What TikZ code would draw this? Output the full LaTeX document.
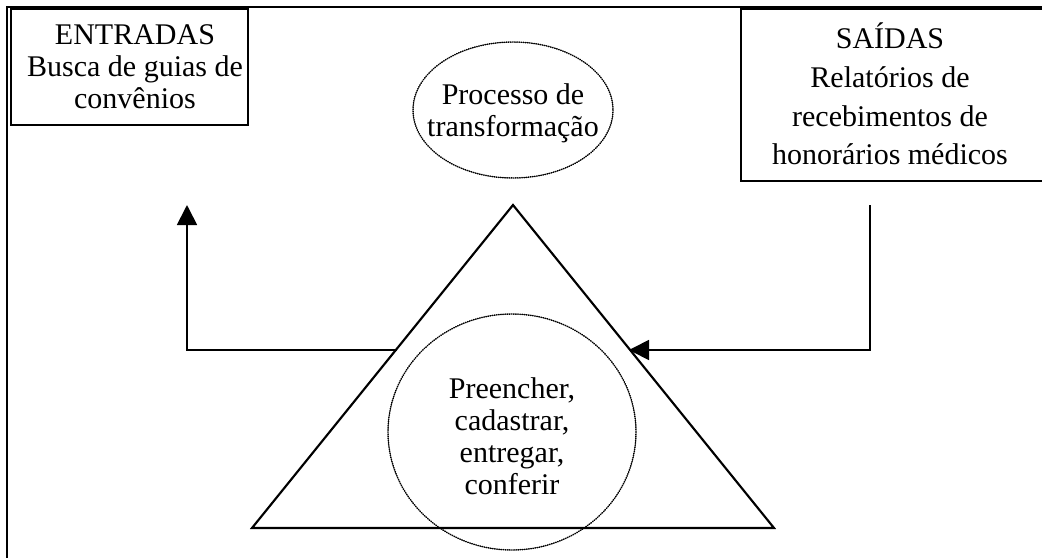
\documentclass[tikz,border=0pt]{standalone}
\usepackage{fontspec}
\setmainfont{Liberation Serif}
\usetikzlibrary{arrows.meta}
\begin{document}
\begin{tikzpicture}[x=0.75pt,y=-0.75pt,
  frameline/.style={line width=1.6pt},
  boxline/.style={line width=1.4pt},
  conn/.style={line width=1.3pt},
  dotline/.style={line width=1.1pt, dash pattern=on 0.5pt off 1.1pt, line cap=round},
  txt/.style={align=center, font=\fontsize{22.5}{24}\selectfont, inner sep=0pt},
  txtb/.style={align=center, font=\fontsize{22.5}{29}\selectfont, inner sep=0pt},
  tip/.style={-{Triangle[length=15pt,width=15pt]}}]
\useasboundingbox (0,0) rectangle (1042,557);
% outer frame (top and left edges visible)
\coordinate (fTL) at (7,7);
\coordinate (fTR) at (1045,7);
\coordinate (fBL) at (7,560);
\draw[frameline] (fTR) -- (fTL) -- (fBL);
% boxes
\node[boxline, draw, minimum width=237*0.75pt, minimum height=116*0.75pt, anchor=north west] (inbox) at (10,8) {};
\node[txt] (intxt) at (135,67) {ENTRADAS\\Busca de guias de\\convênios};
\node[boxline, draw, minimum width=310*0.75pt, minimum height=172*0.75pt, anchor=north west] (outbox) at (740,8) {};
\node[txtb] (outtxt) at (890,94) {SAÍDAS\\Relatórios de\\recebimentos de\\honorários médicos};
% process ellipse
\draw[dotline] (513,110) ellipse [x radius=100, y radius=68];
\node[txt] (proc) at (513,113) {Processo de\\transformação};
% triangle
\coordinate (apex) at (513,205);
\coordinate (bl) at (252,528);
\coordinate (br) at (774,528);
\draw[line width=1.6pt, line join=miter] (apex) -- (bl) -- (br) -- cycle;
% circle
\draw[dotline] (512,432) ellipse [x radius=124, y radius=118];
\node[txt] (act) at (512,436) {Preencher,\\cadastrar,\\entregar,\\conferir};
% connectors
\coordinate (lA) at (187,205);
\coordinate (lB) at (187,350);
\coordinate (lC) at (397,350);
\coordinate (rA) at (870,205);
\coordinate (rB) at (870,350);
\coordinate (rC) at (629,350);
\draw[conn, tip] (lC) -- (lB) -- (lA);
\draw[conn, tip] (rA) -- (rB) -- (rC);
\end{tikzpicture}
\end{document}
